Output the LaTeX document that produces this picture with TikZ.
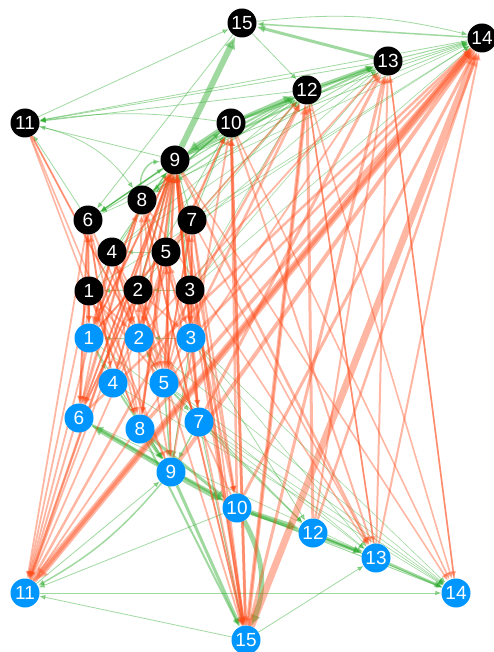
\documentclass[tikz,border=0pt]{standalone}
\usepackage{fontspec}
\setmainfont{Liberation Sans}
\usetikzlibrary{arrows.meta,backgrounds}

\definecolor{linkgreen}{RGB}{44,170,44}
\definecolor{linkred}{RGB}{255,75,25}
\definecolor{nodeblue}{RGB}{0,150,255}

\tikzset{
  blk/.style={circle, fill=black, text=white, minimum size=29pt, inner sep=0pt,
    font=\fontsize{19}{19}\selectfont},
  blu/.style={blk, fill=nodeblue},
  gr/.style={draw=linkgreen, opacity=0.45,
    -{Latex[length=5pt 1.3, width=4pt 1.3]}},
  rd/.style={gr, draw=linkred, opacity=0.4},
}

\begin{document}
\begin{tikzpicture}[x=1pt, y=-1pt]
\useasboundingbox (0,0) rectangle (493,652);
% upper (black) nodes
\node[blk] (t1) at (89,291) {1};
\node[blk] (t2) at (138,290) {2};
\node[blk] (t3) at (190,290) {3};
\node[blk] (t4) at (112,252) {4};
\node[blk] (t5) at (166,252) {5};
\node[blk] (t6) at (88,220) {6};
\node[blk] (t7) at (192,220) {7};
\node[blk] (t8) at (142,200) {8};
\node[blk] (t9) at (175,160) {9};
\node[blk] (t10) at (231,123) {10};
\node[blk] (t11) at (25,123) {11};
\node[blk] (t12) at (307,90) {12};
\node[blk] (t13) at (388,61) {13};
\node[blk] (t14) at (482,38) {14};
\node[blk] (t15) at (242,23) {15};
% lower (blue) nodes
\node[blu] (b1) at (89,338) {1};
\node[blu] (b2) at (139,338) {2};
\node[blu] (b3) at (191,338) {3};
\node[blu] (b4) at (113,383) {4};
\node[blu] (b5) at (164,383) {5};
\node[blu] (b6) at (79,418) {6};
\node[blu] (b7) at (199,422) {7};
\node[blu] (b8) at (140,429) {8};
\node[blu] (b9) at (171,472) {9};
\node[blu] (b10) at (237,508) {10};
\node[blu] (b11) at (25,593) {11};
\node[blu] (b12) at (313,533) {12};
\node[blu] (b13) at (376,558) {13};
\node[blu] (b14) at (456,593) {14};
\node[blu] (b15) at (246,640) {15};

\begin{pgfonlayer}{background}
% green links, upper group
\foreach \a/\b/\w in {t9/t15/6, t10/t9/5, t10/t12/4, t12/t13/3, t13/t15/3,
  t14/t15/1.5, t13/t14/1, t12/t14/0.8, t10/t14/0.8, t9/t14/0.8, t9/t13/2,
  t10/t13/2, t9/t12/2, t8/t12/1.5, t15/t12/0.8, t11/t15/0.8, t13/t11/0.8,
  t14/t11/0.8, t12/t11/0.8, t9/t11/0.8, t6/t11/0.8, t9/t6/1.2, t15/t6/0.8,
  t10/t6/1, t12/t6/1, t10/t8/1, t13/t8/0.8, t7/t9/1, t5/t9/1.5, t4/t9/1.2,
  t2/t9/1, t3/t9/1, t1/t9/0.8, t6/t9/1, t3/t2/1, t2/t1/1, t5/t4/0.8,
  t7/t12/0.6, t5/t13/0.6, t3/t14/0.6, t2/t12/0.6, t4/t13/0.6, t1/t14/0.6,
  t3/t12/0.6, t7/t14/0.6, t6/t14/0.6, t4/t12/0.6, t8/t10/1.5, t7/t10/1,
  t3/t13/0.6, t2/t10/0.8}
  \draw[gr, line width=\w pt] (\a) -- (\b);
\draw[gr, line width=0.8pt] (t15) to[bend left=10] (t14);
\draw[gr, line width=1.5pt] (t8) to[bend left=45] (t9);
\draw[gr, line width=0.8pt] (t11) to[bend left=20] (t8);
\draw[gr, line width=0.8pt] (t10) to[bend right=8] (t11);
% green links, lower group
\foreach \a/\b/\w in {b9/b6/5, b8/b10/3, b9/b10/6, b10/b12/5, b12/b13/3,
  b10/b13/3, b13/b14/2.5, b12/b14/1, b10/b14/1, b9/b15/3, b8/b15/2,
  b7/b15/1, b15/b11/0.8, b15/b13/0.8, b11/b14/0.8, b10/b11/0.8, b11/b9/0.8,
  b2/b1/1, b3/b2/1, b5/b2/1, b4/b9/2, b5/b9/1.5, b7/b9/1.5, b3/b9/1,
  b8/b9/2, b1/b9/1, b6/b10/2, b1/b13/0.6, b4/b14/0.6, b6/b13/0.6,
  b3/b14/0.6, b5/b13/0.6, b2/b14/0.6, b7/b14/0.6, b3/b13/0.6, b5/b14/0.6,
  b7/b12/1, b5/b12/1, b3/b12/0.8, b1/b4/1, b5/b7/0.8}
  \draw[gr, line width=\w pt] (\a) -- (\b);
\draw[gr, line width=5pt] (b10) to[bend left=25] (b15);
\draw[gr, line width=1.5pt] (b9) to[bend left=10] (b11);
% red links between the groups
\foreach \a/\b/\w in {t9/b11/2.5, t6/b11/1.8, t4/b11/1.8, t1/b11/1.8,
  t8/b11/2, t2/b11/1.8, t11/b8/1.6, t11/b9/1.6, t11/b5/1.6, t11/b2/1.6,
  t14/b11/7, b11/t14/3.5, b15/t14/7, b15/t13/3, b15/t12/4, b15/t10/2.5,
  b15/t9/2.5, t9/b15/3, t10/b15/3, t8/b15/1.8, t7/b15/1.8, t5/b15/1.8,
  t3/b15/1.8, t12/b15/1.8, t2/b15/1.8, t12/b13/1.6, t12/b14/1.6,
  t13/b14/1.6, t10/b13/2, t9/b13/2.5, t7/b13/1.6, t10/b14/1.6, t9/b14/1.6,
  t8/b13/1.6, b13/t13/2, b13/t14/2, b12/t12/3, b12/t14/2.5, b12/t13/2,
  b10/t14/3, b9/t14/4, b8/t14/3.5, b6/t14/2.5, b7/t13/3, b5/t12/2.5,
  b3/t14/2.5, b10/t10/2.5, b9/t10/2, b4/t10/1.8, b2/t13/1.8, b1/t12/1.8,
  b1/t9/2, b2/t9/2.5, b3/t9/2.5, b4/t9/2, b5/t9/2.5, b6/t9/1.8, b7/t9/2.5,
  b8/t9/2.5, b1/t8/1.8, b2/t8/2, b3/t7/1.8, b5/t7/1.8, b4/t6/1.8,
  b6/t6/1.8, b2/t4/1.8, b1/t6/2, b3/t5/1.8, t1/b1/1.8, t2/b6/1.8,
  t4/b6/1.8, t6/b6/2, t1/b6/1.8, t8/b6/1.8, t9/b6/1.8, t3/b7/1.8,
  t5/b8/1.8, t7/b10/2, t3/b10/1.8, t9/b10/1.8, t2/b9/1.8, t5/b9/1.8,
  t4/b8/1.8, t6/b4/1.8, t9/b4/1.8, t8/b5/1.8, t8/b3/1.8, b11/t9/1.8,
  b11/t10/1.8, b11/t12/2.5, b11/t13/1.8, b15/t8/1.8, b13/t12/1.6,
  b14/t13/1.6, t4/b1/1.8, t4/b2/1.8, t1/b2/1.8, t6/b2/1.8, t6/b1/1.8,
  t2/b3/1.8, t5/b1/1.8, t5/b2/1.8, t7/b3/1.8, t7/b5/1.8, t3/b5/1.8,
  t2/b5/1.8, t4/b5/1.8, t6/b8/1.8, t1/b8/1.8, t8/b1/1.8, t9/b1/1.8,
  t9/b2/1.8, t9/b3/1.8, t9/b7/1.8, t9/b8/1.8, t9/b5/1.8, b9/t1/1.8,
  b10/t2/1.8, b8/t2/1.8, b7/t4/1.8, b9/t5/1.8, b6/t2/1.8, b5/t1/1.8}
  \draw[rd, line width=\w pt] (\a) -- (\b);
\end{pgfonlayer}
\end{tikzpicture}
\end{document}
